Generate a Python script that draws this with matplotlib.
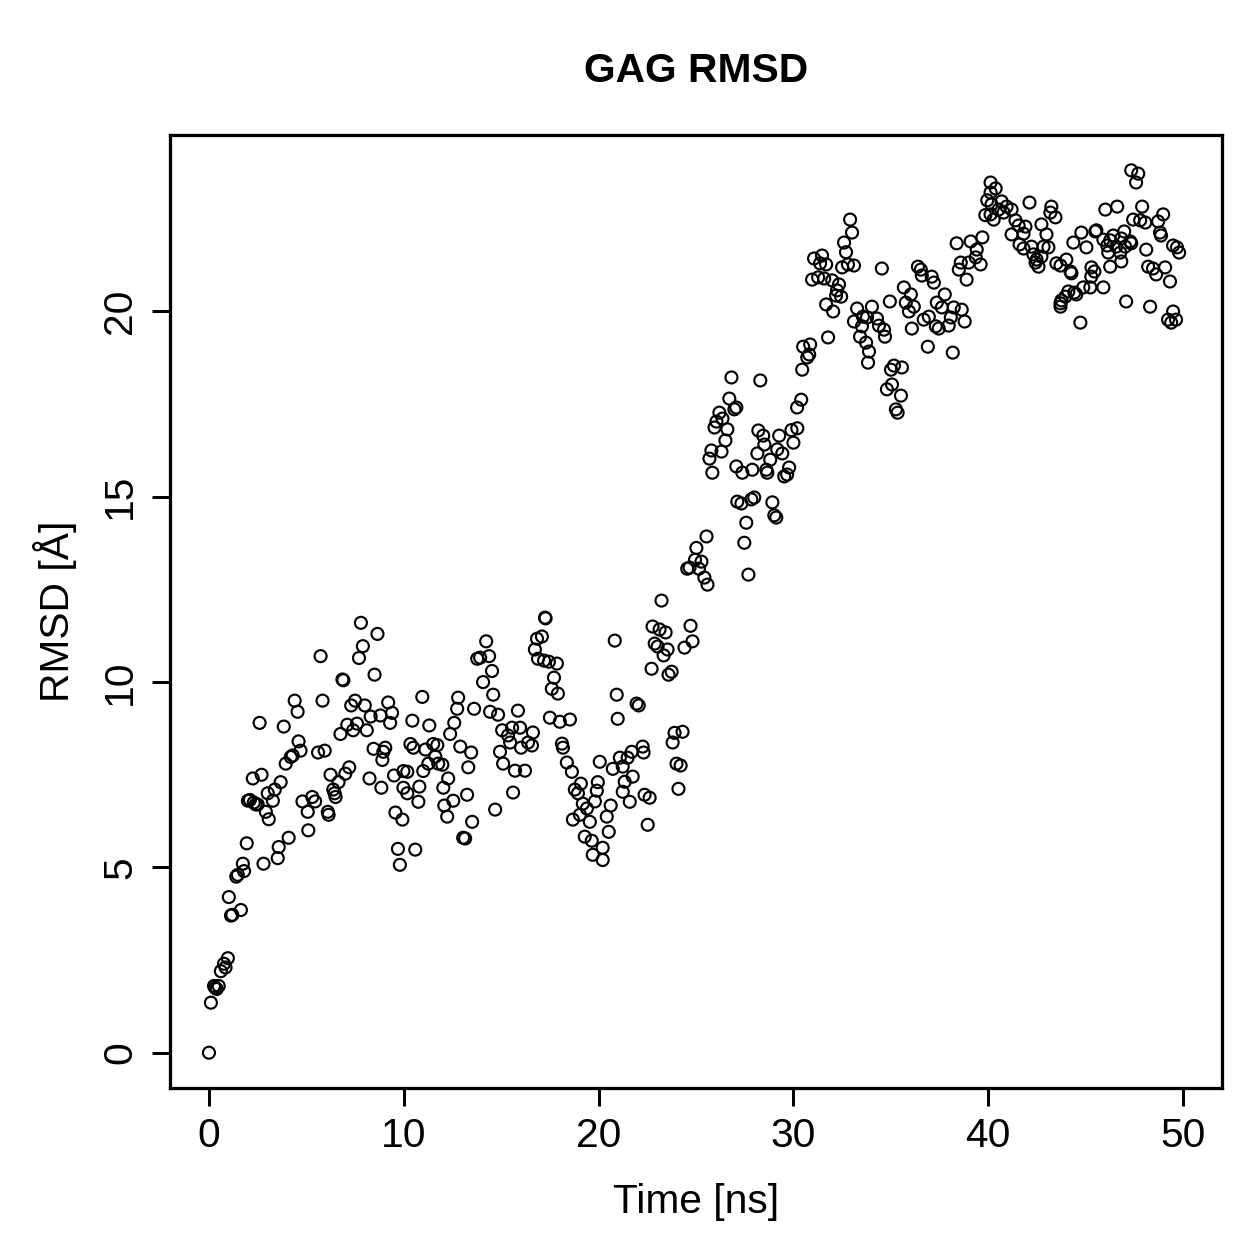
import numpy as np
import matplotlib
matplotlib.use("Agg")
import matplotlib.pyplot as plt

plt.rcParams['font.family'] = ['Liberation Sans', 'DejaVu Sans']

# (time [ns], RMSD [A]), by 10 ns blocks
seg_00_10 = [
    (0.00, 0.00), (0.10, 1.35), (0.26, 1.80), (0.32, 1.75), (0.40, 1.72), (0.50, 1.80),
    (0.61, 2.20), (0.77, 2.40), (0.85, 2.30), (0.97, 2.55), (1.02, 4.20), (1.13, 3.70),
    (1.20, 3.72), (1.40, 4.75), (1.48, 4.80), (1.64, 3.85), (1.74, 5.10), (1.80, 4.90),
    (1.94, 5.65), (2.00, 6.80), (2.10, 6.82), (2.25, 7.40), (2.30, 6.75), (2.40, 6.70),
    (2.50, 6.70), (2.60, 8.90), (2.70, 7.50), (2.80, 5.10), (2.92, 6.50), (3.02, 7.00),
    (3.07, 6.30), (3.28, 6.80), (3.38, 7.10), (3.53, 5.25), (3.58, 5.55), (3.68, 7.30),
    (3.84, 8.80), (3.94, 7.80), (4.09, 5.80), (4.20, 7.98), (4.30, 8.02), (4.40, 9.50),
    (4.55, 9.20), (4.60, 8.40), (4.70, 8.15), (4.80, 6.78), (5.07, 6.50), (5.10, 6.00),
    (5.30, 6.90), (5.45, 6.78), (5.60, 8.10), (5.73, 10.70), (5.83, 9.50), (5.94, 8.15),
    (6.10, 6.50), (6.14, 6.42), (6.24, 7.50), (6.38, 7.10), (6.45, 7.00), (6.50, 6.90),
    (6.65, 7.30), (6.75, 8.60), (6.85, 10.07), (6.90, 10.05), (7.00, 7.53), (7.10, 8.85),
    (7.20, 7.70), (7.30, 9.37), (7.40, 8.70), (7.50, 9.50), (7.60, 8.88), (7.70, 10.65),
    (7.80, 11.60), (7.90, 10.97), (8.00, 9.37), (8.10, 8.70), (8.24, 7.40), (8.30, 9.07),
    (8.45, 8.20), (8.50, 10.20), (8.65, 11.30), (8.80, 9.10), (8.85, 7.15), (8.90, 7.90),
    (8.95, 8.12), (9.05, 8.23), (9.20, 9.45), (9.30, 8.90), (9.40, 9.17), (9.50, 7.48),
    (9.57, 6.48), (9.70, 5.50), (9.80, 5.07),
]

seg_10_20 = [
    (9.93, 6.29), (9.98, 7.60), (9.98, 7.15), (10.18, 7.58), (10.18, 7.00), (10.34, 8.33),
    (10.44, 8.96), (10.49, 8.23), (10.59, 5.48), (10.75, 6.77), (10.80, 7.18), (10.95, 9.60),
    (11.00, 7.60), (11.11, 8.18), (11.26, 7.80), (11.31, 8.83), (11.51, 8.33), (11.62, 7.99),
    (11.72, 8.30), (11.77, 7.80), (11.98, 7.77), (12.03, 7.15), (12.08, 6.67), (12.23, 6.37),
    (12.28, 7.40), (12.38, 8.60), (12.54, 6.80), (12.59, 8.90), (12.74, 9.28), (12.79, 9.58),
    (12.90, 8.26), (13.05, 5.80), (13.15, 5.78), (13.25, 6.96), (13.31, 7.70), (13.46, 8.10),
    (13.51, 6.23), (13.61, 9.28), (13.77, 10.63), (13.92, 10.66), (14.07, 10.00), (14.23, 11.10),
    (14.38, 10.70), (14.43, 9.20), (14.53, 10.30), (14.59, 9.66), (14.69, 6.56), (14.84, 9.12),
    (14.94, 8.12), (15.05, 8.70), (15.10, 7.80), (15.35, 8.56), (15.46, 8.37), (15.56, 8.77),
    (15.61, 7.02), (15.71, 7.61), (15.86, 9.23), (15.97, 8.77), (16.02, 8.23), (16.22, 7.61),
    (16.38, 8.37), (16.58, 8.29), (16.63, 8.64), (16.73, 10.88), (16.84, 11.17), (16.89, 10.63),
    (17.09, 11.23), (17.20, 10.58), (17.25, 11.74), (17.28, 11.72), (17.45, 10.55), (17.50, 9.04),
    (17.60, 9.82), (17.71, 10.12), (17.86, 10.50), (17.91, 9.69), (18.01, 8.93), (18.12, 8.34),
    (18.17, 8.23), (18.37, 7.83), (18.53, 8.99), (18.63, 7.58), (18.68, 6.29), (18.78, 7.10),
    (18.94, 7.00), (19.04, 6.42), (19.09, 7.26), (19.19, 6.72), (19.29, 5.83), (19.40, 6.59),
    (19.55, 6.23), (19.65, 5.72), (19.70, 5.34), (19.81, 6.78), (19.91, 7.07), (19.96, 7.30),
]

seg_20_30 = [
    (20.06, 7.85), (20.21, 5.53), (20.21, 5.20), (20.42, 6.37), (20.52, 5.96), (20.62, 6.67),
    (20.73, 7.66), (20.83, 11.12), (20.93, 9.66), (20.98, 9.01), (21.09, 7.96), (21.24, 7.72),
    (21.24, 7.04), (21.34, 7.31), (21.49, 7.96), (21.60, 6.77), (21.70, 8.12), (21.75, 7.45),
    (21.95, 9.42), (22.06, 9.37), (22.26, 8.26), (22.31, 8.10), (22.36, 6.96), (22.52, 6.15),
    (22.62, 6.88), (22.72, 10.36), (22.77, 11.50), (22.88, 11.04), (23.03, 10.96), (23.13, 11.42),
    (23.23, 12.20), (23.34, 10.72), (23.44, 11.34), (23.54, 10.88), (23.59, 10.20), (23.75, 10.28),
    (23.80, 8.37), (23.90, 8.63), (24.00, 7.80), (24.10, 7.12), (24.21, 7.75), (24.31, 8.66),
    (24.41, 10.93), (24.72, 11.52), (24.82, 11.10), (24.55, 13.06), (24.67, 13.09), (24.95, 13.30),
    (25.02, 13.62), (25.15, 13.06), (25.28, 13.25), (25.43, 12.82), (25.54, 13.93), (25.59, 12.63),
    (25.69, 16.03), (25.79, 16.25), (25.84, 15.65), (25.95, 16.87), (26.05, 17.03), (26.20, 17.27),
    (26.31, 16.22), (26.36, 17.11), (26.51, 16.52), (26.61, 16.82), (26.71, 17.65), (26.82, 18.22),
    (26.97, 17.36), (27.07, 17.41), (27.07, 15.82), (27.12, 14.87), (27.33, 14.82), (27.38, 15.65),
    (27.48, 13.76), (27.58, 14.30), (27.69, 12.90), (27.84, 14.93), (27.89, 15.73), (27.99, 14.98),
    (28.15, 16.17), (28.20, 16.79), (28.30, 18.14), (28.45, 16.65), (28.51, 16.41), (28.61, 15.73),
    (28.66, 15.65), (28.81, 16.00), (28.92, 14.85), (29.02, 14.50), (29.12, 14.44), (29.17, 16.28),
    (29.27, 16.65), (29.43, 16.17), (29.53, 15.55), (29.68, 15.60), (29.78, 15.79), (29.90, 16.80),
    (30.00, 16.46),
]

seg_30_40 = [
    (30.19, 17.41), (30.20, 16.85), (30.40, 17.62), (30.45, 18.43), (30.50, 19.05), (30.71, 18.76),
    (30.81, 18.84), (30.86, 19.11), (30.96, 20.86), (31.06, 21.43), (31.27, 20.92), (31.37, 21.30),
    (31.47, 21.51), (31.58, 20.89), (31.68, 21.27), (31.68, 20.19), (31.78, 19.30), (31.99, 20.84),
    (32.04, 20.00), (32.19, 20.43), (32.24, 20.57), (32.34, 20.73), (32.45, 20.40), (32.50, 21.19),
    (32.60, 21.86), (32.70, 21.60), (32.80, 21.27), (32.91, 22.48), (33.01, 22.13), (33.11, 21.24),
    (33.11, 19.73), (33.27, 20.08), (33.42, 19.32), (33.52, 19.60), (33.57, 19.86), (33.73, 19.16),
    (33.78, 19.84), (33.83, 18.62), (33.88, 18.92), (34.03, 20.13), (34.29, 19.81), (34.39, 19.62),
    (34.54, 21.16), (34.65, 19.51), (34.70, 19.32), (34.80, 17.90), (34.95, 20.27), (35.01, 18.43),
    (35.06, 18.03), (35.16, 18.54), (35.26, 17.36), (35.35, 17.27), (35.52, 17.73), (35.57, 18.49),
    (35.67, 20.65), (35.77, 20.24), (35.93, 20.00), (36.03, 20.46), (36.08, 19.54), (36.18, 20.13),
    (36.39, 21.21), (36.54, 21.13), (36.59, 20.97), (36.69, 19.78), (36.90, 19.05), (36.95, 19.86),
    (37.10, 20.94), (37.21, 20.78), (37.31, 19.60), (37.36, 20.24), (37.46, 19.54), (37.62, 20.11),
    (37.77, 20.46), (37.97, 19.62), (38.08, 19.84), (38.18, 18.89), (38.23, 20.11), (38.38, 21.84),
    (38.49, 21.13), (38.59, 21.32), (38.64, 20.05), (38.79, 19.73), (38.89, 20.86), (39.00, 21.32),
    (39.10, 21.89), (39.36, 21.46), (39.41, 21.67), (39.61, 21.27), (39.70, 22.00), (39.85, 22.60),
    (39.95, 23.00),
]

seg_40_50 = [
    (40.12, 23.48), (40.12, 23.21), (40.12, 22.62), (40.17, 22.89), (40.28, 22.48), (40.38, 23.32),
    (40.53, 22.75), (40.69, 22.97), (40.79, 22.67), (40.94, 22.83), (41.20, 22.75), (41.20, 22.08),
    (41.40, 22.46), (41.56, 22.32), (41.61, 21.81), (41.81, 22.10), (41.81, 21.70), (41.91, 22.29),
    (42.12, 22.94), (42.22, 21.75), (42.32, 21.54), (42.43, 21.32), (42.48, 21.40), (42.58, 21.21),
    (42.73, 22.35), (42.73, 21.48), (42.84, 21.75), (42.99, 22.08), (43.09, 21.73), (43.19, 22.67),
    (43.24, 22.83), (43.45, 22.54), (43.50, 21.30), (43.71, 21.24), (43.71, 20.22), (43.71, 20.13),
    (43.76, 20.30), (43.96, 20.40), (44.01, 21.40), (44.11, 20.54), (44.22, 21.08), (44.27, 21.03),
    (44.37, 21.86), (44.42, 20.51), (44.52, 20.46), (44.73, 19.70), (44.78, 22.13), (44.88, 20.65),
    (45.04, 21.73), (45.24, 20.65), (45.30, 21.19), (45.29, 20.94), (45.45, 21.08), (45.50, 22.16),
    (45.55, 22.19), (45.91, 21.94), (45.91, 20.65), (46.01, 22.75), (46.11, 21.78), (46.16, 21.59),
    (46.26, 21.92), (46.26, 21.21), (46.42, 22.05), (46.57, 21.75), (46.62, 22.83), (46.78, 21.59),
    (46.83, 21.97), (46.83, 21.35), (46.98, 22.16), (47.03, 21.75), (47.08, 20.27), (47.29, 21.89),
    (47.34, 21.84), (47.34, 23.81), (47.44, 22.48), (47.59, 23.48), (47.70, 23.72), (47.80, 22.46),
    (47.90, 22.83), (48.06, 22.40), (48.11, 21.67), (48.21, 21.21), (48.31, 20.13), (48.46, 21.16),
    (48.62, 21.00), (48.72, 22.43), (48.82, 22.13), (48.87, 22.05), (48.98, 22.62), (49.08, 21.19),
    (49.23, 19.78), (49.33, 20.81), (49.39, 19.70), (49.49, 21.78), (49.49, 20.00), (49.64, 19.78),
    (49.69, 21.73), (49.80, 21.59),
]

time_range = (0, 50)
x_ticks = [0, 10, 20, 30, 40, 50]
y_ticks = [0, 5, 10, 15, 20]

pts = np.array(seg_00_10 + seg_10_20 + seg_20_30 + seg_30_40 + seg_40_50)
t, rmsd = pts[:, 0], pts[:, 1]

W = 1259
fig = plt.figure(figsize=(W / 180, W / 180), dpi=180)
ax = fig.add_axes([170 / W, 1 - 1088 / W, (1222 - 170) / W, (1088 - 135) / W])

ax.scatter(t, rmsd, s=23, facecolors='none', edgecolors='black', linewidths=0.85)

# R-style 4% padding
xpad = 0.04 * (time_range[1] - time_range[0])
ax.set_xlim(time_range[0] - xpad, time_range[1] + xpad)
ypad = 0.04 * (rmsd.max() - rmsd.min())
ax.set_ylim(rmsd.min() - ypad, rmsd.max() + ypad)

FS = 16.3
ax.set_xticks(x_ticks)
ax.set_yticks(y_ticks)
ax.set_yticklabels([str(v) for v in y_ticks], rotation=90, va='center')
ax.tick_params(direction='out', length=7.2, width=1.2, labelsize=FS)
ax.tick_params(axis='x', pad=4.5)
ax.tick_params(axis='y', pad=5.2)
for s in ax.spines.values():
    s.set_linewidth(1.3)

ax.set_xlabel("Time [ns]", fontsize=FS, labelpad=11)
ax.set_ylabel("RMSD [Å]", fontsize=FS, labelpad=9.5)
ax.set_title("GAG RMSD", fontsize=FS, fontweight='bold', pad=21)

fig.savefig("out.png", dpi=180)
